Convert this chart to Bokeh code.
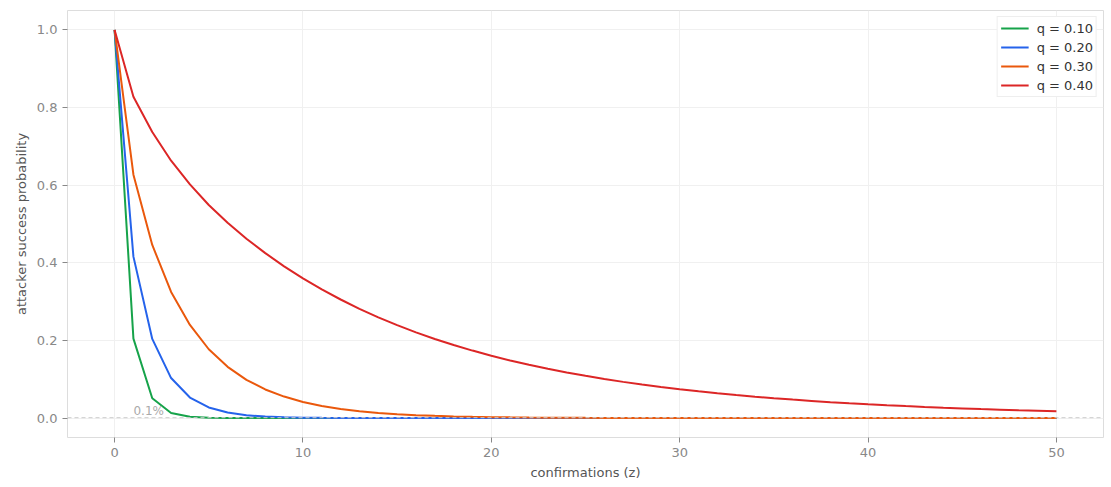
from bokeh.plotting import figure
from bokeh.models import Span, Legend, LegendItem, Label, NumeralTickFormatter
from bokeh.embed import file_html
from bokeh.resources import INLINE

z = list(range(51))

q10 = [1.0, 0.2045873, 0.0509779, 0.0131722, 0.0034552, 0.0009137, 0.0002428, 0.0000647,
       0.0000173, 0.0000046, 0.0000012, 3.2e-7, 8.5e-8, 2.3e-8, 6e-9, 1.6e-9, 4.3e-10, 1.1e-10,
       3e-11, 8e-12, 2e-12, 5.6e-13, 1.5e-13, 4e-14, 1e-14, 2.8e-15, 7.5e-16, 2e-16, 5e-17,
       1.4e-17, 3.7e-18, 1e-18, 2.6e-19, 7e-20, 1.9e-20, 5e-21, 1.3e-21, 3.5e-22, 9e-23,
       2.5e-23, 6.6e-24, 1.8e-24, 4.7e-25, 1.2e-25, 3.3e-26, 8.8e-27, 2.3e-27, 6.2e-28,
       1.6e-28, 4.4e-29, 1.2e-29]

q20 = [1.0, 0.4159, 0.2039, 0.1031, 0.0530, 0.0274, 0.01425, 0.00743, 0.00388, 0.00203,
       0.00106, 0.00056, 0.00029, 0.00015, 0.00008, 0.00004, 0.000022, 0.0000115, 0.000006,
       0.0000032, 0.0000017, 8.9e-7, 4.7e-7, 2.5e-7, 1.3e-7, 6.9e-8, 3.6e-8, 1.9e-8, 1e-8,
       5.3e-9, 2.8e-9, 1.5e-9, 7.8e-10, 4.1e-10, 2.2e-10, 1.2e-10, 6.1e-11, 3.2e-11, 1.7e-11,
       9e-12, 4.8e-12, 2.5e-12, 1.3e-12, 7e-13, 3.7e-13, 2e-13, 1e-13, 5.5e-14, 2.9e-14,
       1.5e-14, 8e-15]

q30 = [1.0, 0.627, 0.446, 0.325, 0.240, 0.1773523, 0.132, 0.0985, 0.0738, 0.0554, 0.0416605,
       0.0313, 0.0236, 0.0178, 0.0134, 0.0101008, 0.00763, 0.00576, 0.00435, 0.00328, 0.0024804,
       0.00188, 0.00142, 0.00107, 0.00081, 0.0006132, 0.00046, 0.00035, 0.00027, 0.0002,
       0.0001522, 0.000115, 0.000087, 0.000066, 0.00005, 0.0000379, 0.000029, 0.000022,
       0.000017, 0.000013, 0.0000095, 0.0000072, 0.0000054, 0.0000041, 0.0000031, 0.0000024,
       0.0000018, 0.0000014, 0.000001, 0.0000008, 0.0000006]

q40 = [1.0, 0.828, 0.737, 0.663, 0.602, 0.549, 0.503, 0.462, 0.425, 0.391, 0.360,
       0.3316, 0.3055, 0.2815, 0.2596, 0.2394, 0.2209, 0.2039, 0.1882, 0.1739, 0.1606,
       0.1485, 0.1373, 0.1270, 0.1175, 0.1088, 0.1007, 0.0933, 0.0865, 0.0801, 0.0743,
       0.0689, 0.0640, 0.0594, 0.0551, 0.0512, 0.0476, 0.0443, 0.0411, 0.0383, 0.0356,
       0.0332, 0.0309, 0.0288, 0.0268, 0.0250, 0.0233, 0.0218, 0.0203, 0.0190, 0.0177]

series = [("q = 0.10", q10, "#16a34a"), ("q = 0.20", q20, "#2563eb"),
          ("q = 0.30", q30, "#ea580c"), ("q = 0.40", q40, "#dc2626")]

threshold = 0.001
threshold_label = "0.1%"

FONT = "DejaVu Sans"

p = figure(width=1111, height=487, output_backend="svg", toolbar_location=None,
           x_axis_label="confirmations (z)", y_axis_label="attacker success probability",
           min_border_left=67, min_border_right=8, min_border_top=10, min_border_bottom=50)

p.outline_line_color = "#dddddd"
p.outline_line_width = 1
p.background_fill_color = "white"
p.border_fill_color = "white"
p.xgrid.grid_line_color = "#f0f0f0"
p.ygrid.grid_line_color = "#f0f0f0"
p.yaxis.formatter = NumeralTickFormatter(format="0.0")

for ax in (p.xaxis, p.yaxis):
    ax.axis_line_color = None
    ax.major_tick_line_color = "#888888"
    ax.minor_tick_line_color = None
    ax.major_tick_in = 0
    ax.major_tick_out = 5
    ax.major_label_text_color = "#888888"
    ax.major_label_text_font_size = "13px"
    ax.major_label_text_font = FONT
    ax.axis_label_text_color = "#555555"
    ax.axis_label_text_font_style = "normal"
    ax.axis_label_text_font_size = "13px"
    ax.axis_label_text_font = FONT

span = Span(location=threshold, dimension="width", line_color="#cccccc",
            line_dash="4 3", line_width=1)
p.add_layout(span)
p.add_layout(Label(x=1, y=threshold, text=threshold_label, text_color="#aaaaaa",
                   text_font_size="12px", text_font=FONT, x_offset=0, y_offset=0))

items = []
for name, vals, col in series:
    r = p.line(z, vals, line_color=col, line_width=2)
    items.append(LegendItem(label=name, renderers=[r]))

legend = Legend(items=items, location="top_right", label_text_font_size="13px",
                label_text_font=FONT,
                label_text_color="#333333", border_line_color="#dddddd",
                background_fill_alpha=1.0, glyph_width=28, spacing=3,
                padding=3, margin=6, label_height=16, glyph_height=16,
                label_standoff=8)
p.add_layout(legend)

open("out.html", "w").write(file_html(p, INLINE))
